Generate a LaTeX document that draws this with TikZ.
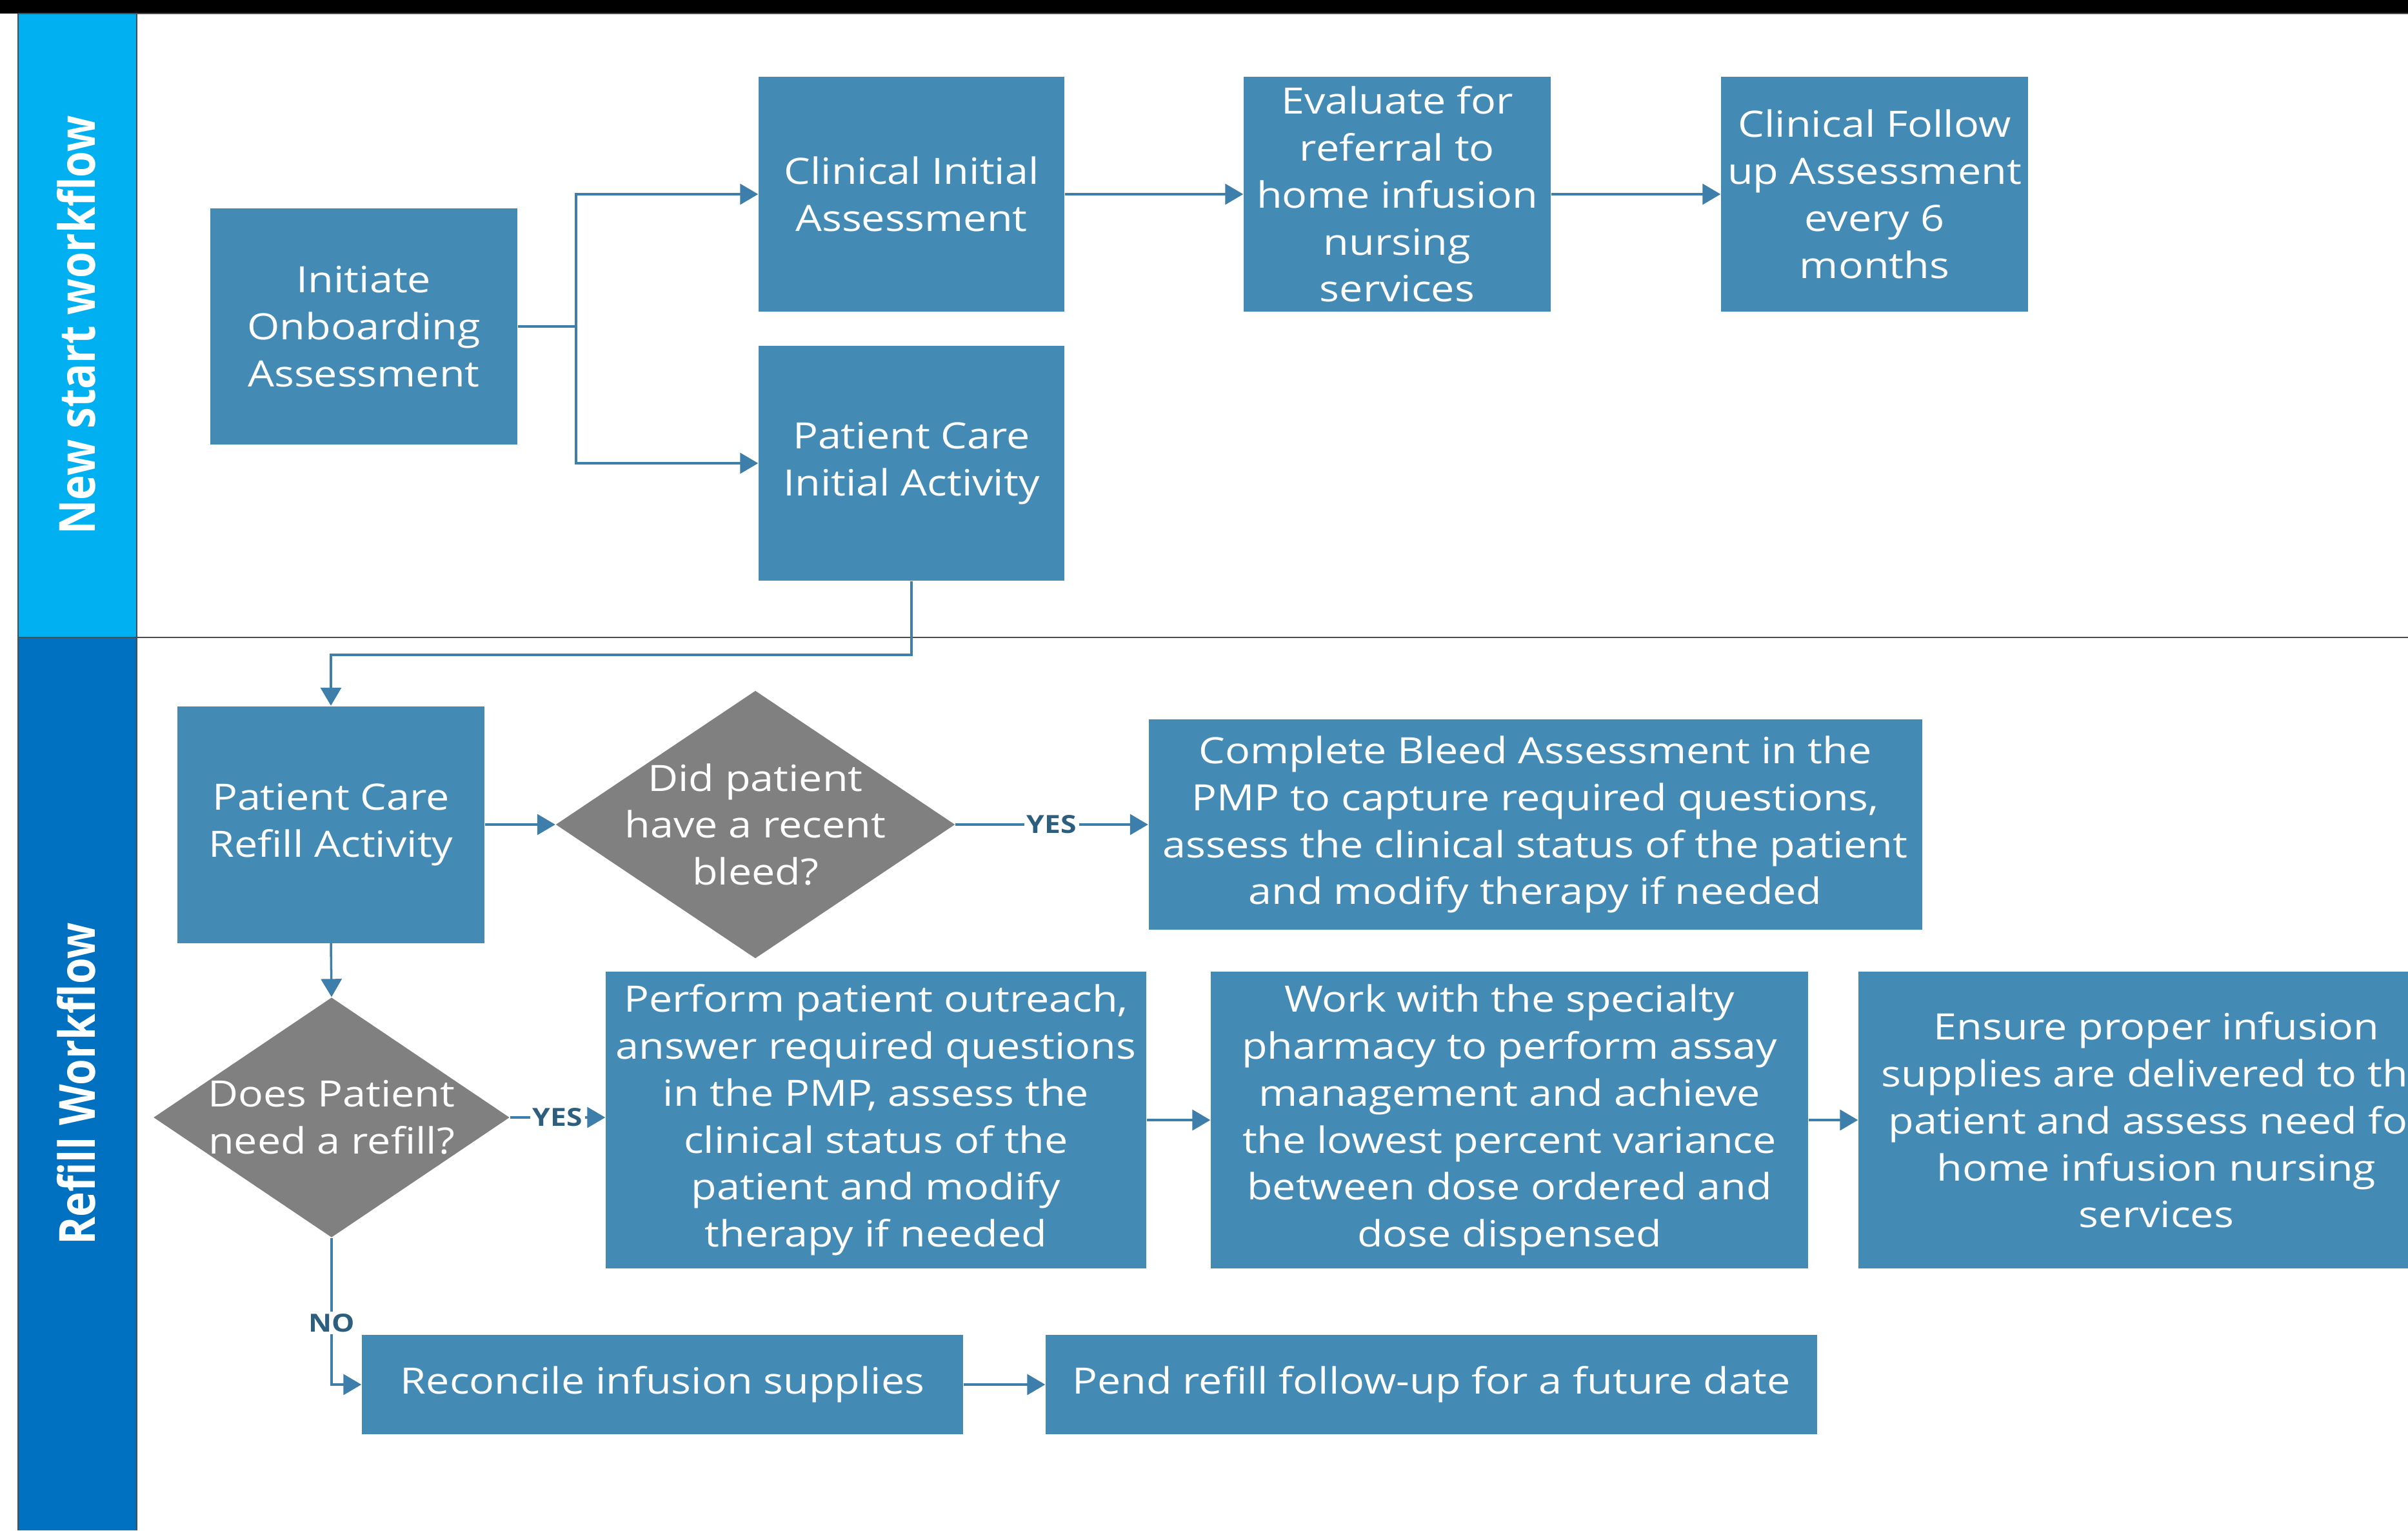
\documentclass[tikz,border=0pt]{standalone}
\usepackage{fontspec}
\setmainfont{Open Sans}[FakeStretch=1.15]
\newfontfamily\lanefont{Open Sans}[FakeStretch=0.85]
\usetikzlibrary{shapes.geometric}
\usetikzlibrary{arrows.meta}
\definecolor{boxblue}{RGB}{67,138,180}
\definecolor{linkblue}{RGB}{62,126,170}
\definecolor{lanecyan}{RGB}{0,176,240}
\definecolor{laneblue}{RGB}{0,112,192}
\definecolor{decgray}{RGB}{128,128,128}
\definecolor{tagblue}{RGB}{46,94,126}

\begin{document}
\begin{tikzpicture}[y=-1cm,
  task/.style = {shape=rectangle, fill=boxblue, text=white,
    align=center, inner sep=0pt, font=\fontsize{16}{20.7}\selectfont},
  decision/.style = {shape=diamond, fill=decgray, inner sep=0pt},
  decision text/.style = {text=white, align=center, inner sep=0pt,
    font=\fontsize{16}{20.7}\selectfont},
  flow/.style = {draw=linkblue, line width=1pt,
    -{Triangle[width=3.2mm,length=2.8mm]}},
  tag/.style = {fill=white, text=tagblue, inner sep=1pt,
    font=\fontsize{11}{13}\selectfont\bfseries},
  lane title/.style = {rotate=90, text=white,
    font=\lanefont\fontsize{22}{26}\selectfont\bfseries}]

  \useasboundingbox (0,0) rectangle (37.33,23.72);
  \clip (0,0) rectangle (37.33,23.72);

  \fill[black] (0,0) rectangle (37.33,0.21);
  \fill[lanecyan] (0.28,0.21) rectangle (2.12,9.88);
  \fill[laneblue] (0.28,9.88) rectangle (2.12,23.72);
  \draw[black!70, line width=0.8pt] (0.28,0.21) -- (37.33,0.21)
    (0.28,0.21) -- (0.28,23.72) (2.12,0.21) -- (2.12,23.72)
    (0.28,9.88) -- (37.33,9.88);

  \node[lane title] (newlane) at (1.18,5.04) {New start workflow};
  \node[lane title] (refilllane) at (1.18,16.80) {Refill Workflow};

  \node[task, minimum width=4.76cm, minimum height=3.66cm] (init) at (5.64,5.06)
    {Initiate\\Onboarding\\Assessment};
  \node[task, minimum width=4.74cm, minimum height=3.64cm] (clinit) at (14.13,3.01)
    {Clinical Initial\\Assessment};
  \node[task, minimum width=4.74cm, minimum height=3.64cm] (pcinit) at (14.13,7.18)
    {Patient Care\\Initial Activity};
  \node[task, minimum width=4.76cm, minimum height=3.64cm] (eval) at (21.66,3.01)
    {Evaluate for\\referral to\\home infusion\\nursing\\services};
  \node[task, minimum width=4.76cm, minimum height=3.64cm] (follow) at (29.06,3.01)
    {Clinical Follow\\up Assessment\\every 6\\months};

  \node[task, minimum width=4.76cm, minimum height=3.67cm] (pcrefill) at (5.13,12.78)
    {Patient Care\\Refill Activity};
  \node[decision, minimum width=6.19cm, minimum height=4.15cm] (bleed) at (11.71,12.78) {};
  \node[decision text] (bleedtxt) at (bleed) {Did patient\\have a recent\\bleed?};
  \node[task, minimum width=11.99cm, minimum height=3.26cm] (complete) at (23.80,12.78)
    {Complete Bleed Assessment in the\\PMP to capture required questions,\\assess the clinical status of the patient\\and modify therapy if needed};

  \node[decision, minimum width=5.52cm, minimum height=3.72cm] (refill) at (5.14,17.32) {};
  \node[decision text] (refilltxt) at (refill) {Does Patient\\need a refill?};
  \node[task, minimum width=8.38cm, minimum height=4.60cm] (perform) at (13.58,17.36)
    {Perform patient outreach,\\answer required questions\\in the PMP, assess the\\clinical status of the\\patient and modify\\therapy if needed};
  \node[task, minimum width=9.26cm, minimum height=4.60cm] (work) at (23.40,17.36)
    {Work with the specialty\\pharmacy to perform assay\\management and achieve\\the lowest percent variance\\between dose ordered and\\dose dispensed};
  \node[task, minimum width=9.24cm, minimum height=4.60cm] (ensure) at (33.43,17.36)
    {Ensure proper infusion\\supplies are delivered to the\\patient and assess need for\\home infusion nursing\\services};

  \node[task, minimum width=9.32cm, minimum height=1.54cm] (reconcile) at (10.27,21.46)
    {Reconcile infusion supplies};
  \node[task, minimum width=11.96cm, minimum height=1.54cm] (pend) at (22.19,21.46)
    {Pend refill follow-up for a future date};

  \coordinate (split) at (8.93,5.06);
  \coordinate (drop) at (14.13,10.15);

  \draw[flow] (init.east) -- (split) |- (clinit.west);
  \draw[flow] (split) |- (pcinit.west);
  \draw[flow] (clinit.east) -- (eval.west);
  \draw[flow] (eval.east) -- (follow.west);
  \draw[flow] (pcinit.south) -- (drop) -| (pcrefill.north);
  \draw[flow] (pcrefill.east) -- (bleed.west);
  \draw[flow] (bleed.east) -- node[tag] (yesbleed) {YES} (complete.west);
  \draw[flow] (pcrefill.south) -- (refill.north);
  \draw[flow] (refill.east) -- node[tag] (yesrefill) {YES} (perform.west |- refill.east);
  \draw[flow] (perform.east) -- (work.west);
  \draw[flow] (work.east) -- (ensure.west);
  \draw[flow] (refill.south) |- node[tag, pos=0.29] (norefill) {NO} (reconcile.west);
  \draw[flow] (reconcile.east) -- (pend.west);

\end{tikzpicture}
\end{document}
